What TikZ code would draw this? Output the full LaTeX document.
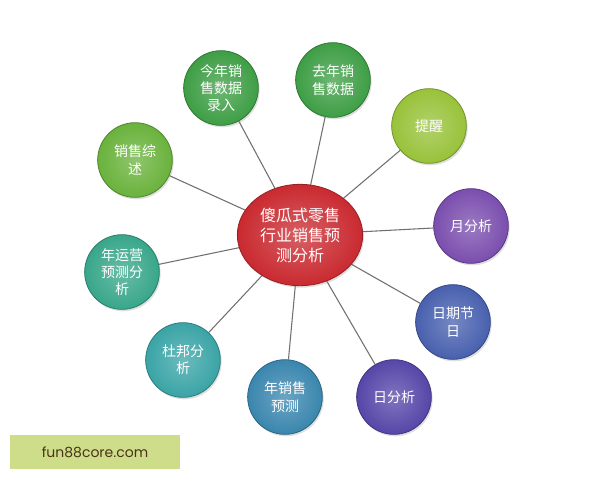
\documentclass[tikz,border=0pt]{standalone}
\usepackage{fontspec}
\usepackage{tikz}
\usetikzlibrary{shapes.geometric,shadows}
\newfontfamily\cjk{Noto Sans CJK SC}
\newfontfamily\wmfont{Poppins}
\definecolor{hubred}{HTML}{C92A30}
\definecolor{leafgreen}{HTML}{3E9E45}
\definecolor{limegreen}{HTML}{6AB23C}
\definecolor{olivegreen}{HTML}{98C23A}
\definecolor{tealgreen}{HTML}{38A68A}
\definecolor{tealblue}{HTML}{3AA4A6}
\definecolor{steelblue}{HTML}{3A86AE}
\definecolor{indigo}{HTML}{5646A8}
\definecolor{royalblue}{HTML}{4860AE}
\definecolor{violet}{HTML}{7A4EAE}
\definecolor{spoke}{HTML}{707070}
\definecolor{wmfill}{HTML}{CEDD89}
\definecolor{wmtext}{HTML}{4A3418}

\begin{document}
\begin{tikzpicture}[x=0.75pt,y=-0.75pt,
    leaf/.style={circle, minimum size=56pt, inner sep=0pt, align=center,
      font=\cjk\fontsize{10.5}{13}\selectfont, text=white,
      inner color=#1!75!white, outer color=#1, draw=#1!75!black, line width=0.6pt,
      drop shadow={opacity=0.25, shadow xshift=1pt, shadow yshift=-1.5pt}},
    hub/.style={ellipse, minimum width=94pt, minimum height=76pt, inner sep=0pt,
      align=center, font=\cjk\fontsize{12}{15}\selectfont, text=white,
      inner color=hubred!75!white, outer color=hubred, draw=hubred!75!black,
      line width=0.6pt,
      drop shadow={opacity=0.25, shadow xshift=1pt, shadow yshift=-1.5pt}},
    link/.style={draw=spoke, line width=0.8pt}]
  \useasboundingbox (0,0) rectangle (600,480);
  \coordinate (c) at (300,235);
  \node[leaf=leafgreen] (input) at (221,88) {今年销\\售数据\\录入};
  \node[leaf=leafgreen] (lastyear) at (333,80) {去年销\\售数据};
  \node[leaf=olivegreen] (remind) at (429,126) {提醒};
  \node[leaf=violet] (month) at (471,226) {月分析};
  \node[leaf=royalblue] (holiday) at (453,322) {日期节\\日};
  \node[leaf=indigo] (day) at (394,397) {日分析};
  \node[leaf=steelblue] (yearfc) at (285,397) {年销售\\预测};
  \node[leaf=tealblue] (dupont) at (183,360) {杜邦分\\析};
  \node[leaf=tealgreen] (opsfc) at (122,272) {年运营\\预测分\\析};
  \node[leaf=limegreen] (summary) at (135,160) {销售综\\述};
  \foreach \n in {input,lastyear,remind,month,holiday,day,yearfc,dupont,opsfc,summary}
    \draw[link] (c) -- (\n);
  \node[hub] (hub) at (c) {傻瓜式零售\\行业销售预\\测分析};
  \node[fill=wmfill, minimum width=127.5pt, minimum height=26pt, inner sep=0pt,
    text=wmtext, font=\wmfont\fontsize{10.5}{12}\selectfont] (mark) at (95,452) {fun88core.com};
\end{tikzpicture}
\end{document}
